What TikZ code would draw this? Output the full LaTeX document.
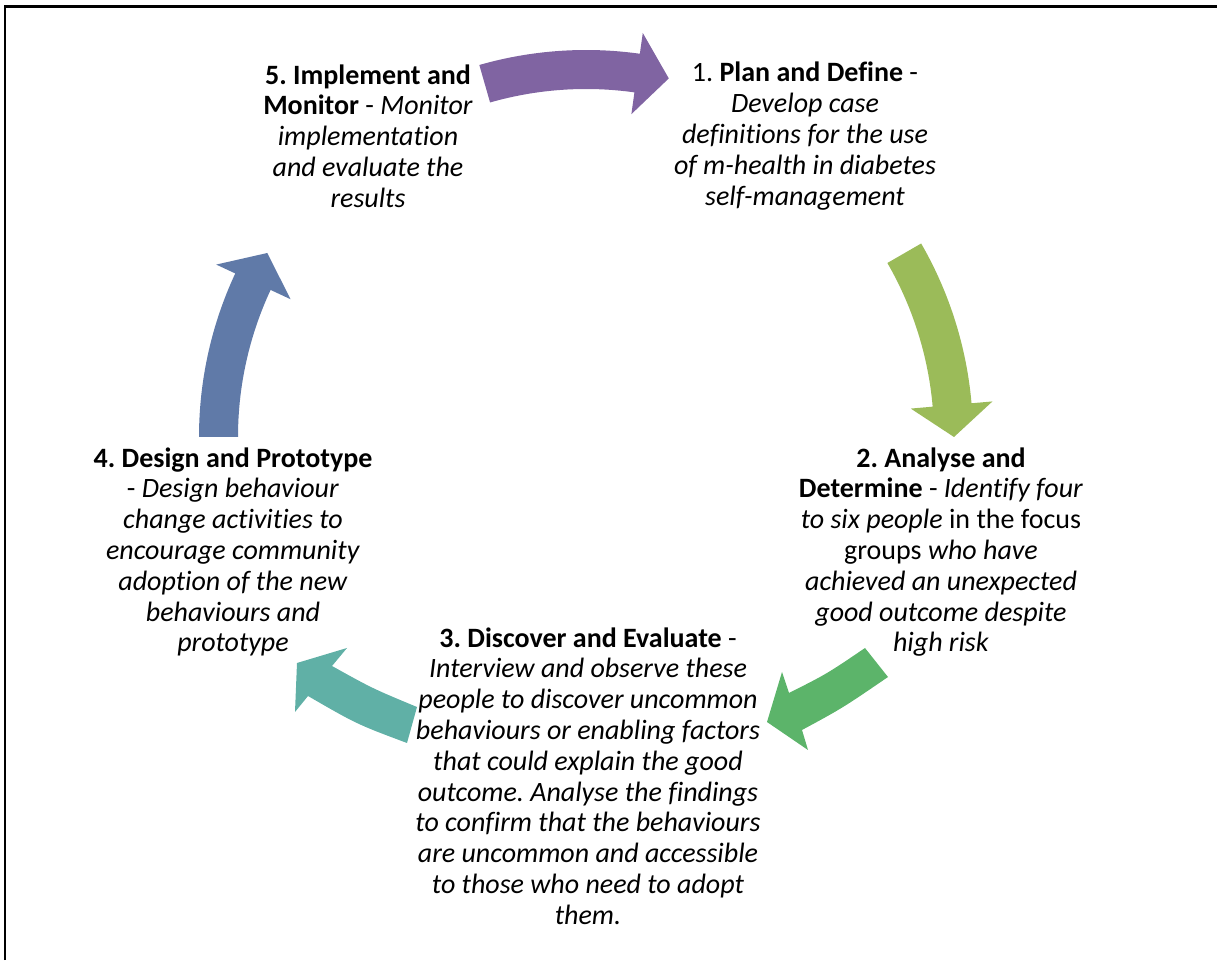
\documentclass[tikz,border=0pt]{standalone}
\usepackage{fontspec}
\setmainfont{Carlito}[Ligatures=NoCommon]
\frenchspacing
\usetikzlibrary{calc}
\definecolor{cycPurple}{RGB}{128,100,162}
\definecolor{cycLime}{RGB}{155,187,89}
\definecolor{cycGreen}{RGB}{92,180,106}
\definecolor{cycTeal}{RGB}{96,176,166}
\definecolor{cycBlue}{RGB}{96,122,168}
% curved block arrow on the ring around (C): colour, tail angle, head base angle, tip angle
\newcommand\ringarrow[4]{%
  \fill[#1] ($(C)+(#2:387)$) arc[start angle=#2, end angle=#3, radius=387]
    -- ($(C)+(#3:408)$) -- ($(C)+(#4:368)$) -- ($(C)+(#3:326)$)
    -- ($(C)+(#3:348)$) arc[start angle=#3, end angle=#2, radius=348] -- cycle;}
\begin{document}
\begin{tikzpicture}[x=0.5pt,y=0.5pt,
  stage/.style={align=center, inner sep=0pt, font=\fontsize{14}{15.4}\selectfont}]
\useasboundingbox (0,0) rectangle (1217,960);
\draw[line width=1.1pt] (5,0) -- (5,953.5) -- (1217,953.5);
\coordinate (C) at (586,523);

% stage texts
\node[stage] (s5) at (368,824) {\textbf{5. Implement and}\\\textbf{Monitor} - \textit{Monitor}\\\textit{implementation}\\\textit{and evaluate the}\\\textit{results}};
\node[stage] (s1) at (805,824) {1. \textbf{Plan and Define} -\\\textit{Develop case}\\\textit{definitions for the use}\\\textit{of m-health in diabetes}\\\textit{self-management}};
\node[stage] (s2) at (941,408) {\textbf{2. Analyse and}\\\textbf{Determine} - \textit{Identify four}\\\textit{to six people} in the focus\\groups \textit{who have}\\\textit{achieved an unexpected}\\\textit{good outcome despite}\\\textit{high risk}};
\node[stage] (s3) at (588,184) {\textbf{3. Discover and Evaluate} -\\\textit{Interview and observe these}\\\textit{people to discover uncommon}\\\textit{behaviours or enabling factors}\\\textit{that could explain the good}\\\textit{outcome. Analyse the findings}\\\textit{to confirm that the behaviours}\\\textit{are uncommon and accessible}\\\textit{to those who need to adopt}\\\textit{them.}};
\node[stage] (s4) at (233,408) {\textbf{4. Design and Prototype}\\- \textit{Design behaviour}\\\textit{change activities to}\\\textit{encourage community}\\\textit{adoption of the new}\\\textit{behaviours and}\\\textit{prototype}};

% arrows of the cycle
\ringarrow{cycPurple}{106}{82}{77}
\ringarrow{cycLime}{30}{5}{0}
\fill[cycGreen] (888,283) .. controls (842.3,251.8) .. (802,230) -- (808,210) -- (767,238)
  -- (782,288) -- (789,267) .. controls (827,286.2) .. (865,312) -- cycle;
\fill[cycTeal] (417,253) .. controls (372.5,271.5) .. (332,294) -- (347,312) -- (297,297)
  -- (295,248) -- (308,264) .. controls (356.8,235.8) .. (407,217) -- cycle;
\ringarrow{cycBlue}{180}{155}{150}
\end{tikzpicture}
\end{document}
